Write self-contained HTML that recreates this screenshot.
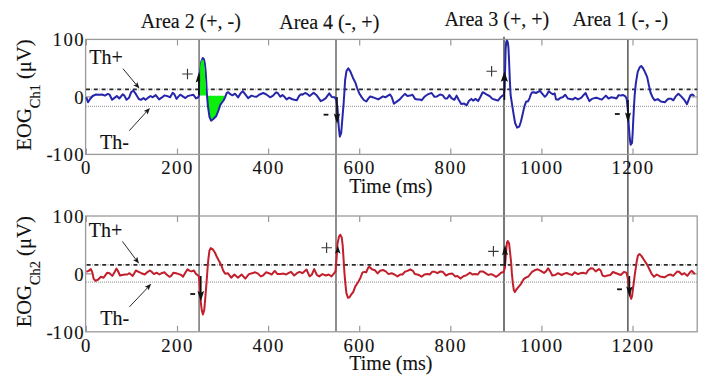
<!DOCTYPE html><html><head><meta charset="utf-8"><style>html,body{margin:0;padding:0;background:#fff;overflow:hidden}svg{display:block}text{stroke:#111;stroke-width:0.12px}</style></head><body>
<svg width="708" height="385" viewBox="0 0 708 385" font-family="Liberation Serif" font-size="20" fill="#111">
<line x1="199.1" y1="39.4" x2="199.1" y2="331.8" stroke="#858585" stroke-width="1.7"/>
<line x1="336.0" y1="39.4" x2="336.0" y2="331.8" stroke="#7a7a7a" stroke-width="1.7"/>
<line x1="504.0" y1="36.8" x2="504.0" y2="331.8" stroke="#555" stroke-width="1.6"/>
<line x1="627.9" y1="39.4" x2="627.9" y2="331.8" stroke="#3a3a3a" stroke-width="1.3"/>
<text x="140.8" y="27.9">Area 2 (+, -)</text>
<text x="279.2" y="28.7">Area 4 (-, +)</text>
<text x="444.4" y="26.3">Area 3 (+, +)</text>
<text x="572.6" y="26.3">Area 1 (-, -)</text>
<rect x="85.6" y="39.4" width="611.6" height="115.0" fill="none" stroke="#9a9a9a" stroke-width="1.3"/>
<path d="M86.4 154.4 v-6 M86.4 39.4 v6 M177.5 154.4 v-6 M177.5 39.4 v6 M268.6 154.4 v-6 M268.6 39.4 v6 M359.7 154.4 v-6 M359.7 39.4 v6 M450.8 154.4 v-6 M450.8 39.4 v6 M541.9 154.4 v-6 M541.9 39.4 v6 M633.0 154.4 v-6 M633.0 39.4 v6 M85.6 96.9 h6 M697.2 96.9 h-6" stroke="#9a9a9a" stroke-width="1.2" fill="none"/>
<line x1="86" y1="89.3" x2="697.2" y2="89.3" stroke="#2a2a2a" stroke-width="1.8" stroke-dasharray="4 1.7 0.3 1.8" stroke-dashoffset="0.0"/>
<line x1="86" y1="106.4" x2="697.2" y2="106.4" stroke="#a4a4a4" stroke-width="1.2" stroke-dasharray="1 1"/>
<text x="85.0" y="46.4" text-anchor="end" font-size="18.7" letter-spacing="1.45">100</text>
<text x="85.0" y="103.9" text-anchor="end" font-size="18.7" letter-spacing="1.45">0</text>
<text x="85.0" y="161.4" text-anchor="end" font-size="18.7" letter-spacing="1.45"><tspan letter-spacing="0">-</tspan>100</text>
<text x="86.4" y="174.2" text-anchor="middle" font-size="18.7" letter-spacing="1.45">0</text>
<text x="177.5" y="174.2" text-anchor="middle" font-size="18.7" letter-spacing="1.45">200</text>
<text x="268.6" y="174.2" text-anchor="middle" font-size="18.7" letter-spacing="1.45">400</text>
<text x="359.7" y="174.2" text-anchor="middle" font-size="18.7" letter-spacing="1.45">600</text>
<text x="450.8" y="174.2" text-anchor="middle" font-size="18.7" letter-spacing="1.45">800</text>
<text x="541.9" y="174.2" text-anchor="middle" font-size="18.7" letter-spacing="1.45">1000</text>
<text x="633.0" y="174.2" text-anchor="middle" font-size="18.7" letter-spacing="1.45">1200</text>
<text x="349.3" y="192.9">Time (ms)</text>
<text transform="translate(30.7 95.0) rotate(-90)" text-anchor="middle" font-size="20.6">EOG<tspan font-size="14.4" dy="9">Ch1</tspan><tspan dy="-9"> (μV)</tspan></text>
<rect x="85.6" y="216.0" width="611.6" height="115.8" fill="none" stroke="#9a9a9a" stroke-width="1.3"/>
<path d="M86.4 331.8 v-6 M86.4 216.0 v6 M177.5 331.8 v-6 M177.5 216.0 v6 M268.6 331.8 v-6 M268.6 216.0 v6 M359.7 331.8 v-6 M359.7 216.0 v6 M450.8 331.8 v-6 M450.8 216.0 v6 M541.9 331.8 v-6 M541.9 216.0 v6 M633.0 331.8 v-6 M633.0 216.0 v6 M85.6 273.9 h6 M697.2 273.9 h-6" stroke="#9a9a9a" stroke-width="1.2" fill="none"/>
<line x1="86" y1="264.8" x2="697.2" y2="264.8" stroke="#2a2a2a" stroke-width="1.8" stroke-dasharray="4 1.7 0.3 1.8" stroke-dashoffset="-0.6"/>
<line x1="86" y1="282.2" x2="697.2" y2="282.2" stroke="#a4a4a4" stroke-width="1.2" stroke-dasharray="1 1"/>
<text x="85.0" y="223.0" text-anchor="end" font-size="18.7" letter-spacing="1.45">100</text>
<text x="85.0" y="280.9" text-anchor="end" font-size="18.7" letter-spacing="1.45">0</text>
<text x="85.0" y="338.8" text-anchor="end" font-size="18.7" letter-spacing="1.45"><tspan letter-spacing="0">-</tspan>100</text>
<text x="86.4" y="351.6" text-anchor="middle" font-size="18.7" letter-spacing="1.45">0</text>
<text x="177.5" y="351.6" text-anchor="middle" font-size="18.7" letter-spacing="1.45">200</text>
<text x="268.6" y="351.6" text-anchor="middle" font-size="18.7" letter-spacing="1.45">400</text>
<text x="359.7" y="351.6" text-anchor="middle" font-size="18.7" letter-spacing="1.45">600</text>
<text x="450.8" y="351.6" text-anchor="middle" font-size="18.7" letter-spacing="1.45">800</text>
<text x="541.9" y="351.6" text-anchor="middle" font-size="18.7" letter-spacing="1.45">1000</text>
<text x="633.0" y="351.6" text-anchor="middle" font-size="18.7" letter-spacing="1.45">1200</text>
<text x="349.3" y="370.3">Time (ms)</text>
<text transform="translate(30.7 271.8) rotate(-90)" text-anchor="middle" font-size="20.6">EOG<tspan font-size="14.4" dy="9">Ch2</tspan><tspan dy="-9"> (μV)</tspan></text>
<path d="M206.9 95.8 L207.1 97.0 L208.0 106.7 L209.5 117.1 L211.1 120.7 L213.1 119.2 L216.3 116.0 L218.3 110.9 L220.4 104.6 L223.5 100.5 L225.0 95.8 Z" fill="#0af00a"/>
<path d="M86.3 97.3 L88.0 102.3 L90.1 99.0 L92.6 96.0 L96.0 94.5 L99.4 94.7 L102.0 94.5 L104.9 95.6 L107.9 93.9 L109.6 94.7 L112.1 99.8 L114.2 98.1 L116.8 96.0 L119.3 98.5 L122.7 94.3 L124.4 95.6 L126.5 99.8 L129.1 97.7 L131.2 92.2 L133.3 90.5 L135.8 93.9 L138.8 99.0 L140.9 99.8 L143.5 98.1 L145.5 99.8 L148.1 97.7 L150.6 96.0 L152.7 97.3 L155.7 95.1 L159.1 99.4 L161.6 97.7 L164.6 95.4 L167.6 96.2 L170.1 97.3 L172.7 92.8 L174.4 94.3 L176.5 98.9 L178.6 96.4 L180.3 94.7 L182.8 96.4 L185.4 98.1 L187.9 96.0 L190.5 95.4 L193.4 94.7 L196.0 98.4 L197.8 97.6 L199.2 95.5 L199.8 82.0 L200.4 70.0 L201.3 61.5 L202.7 58.0 L203.9 59.2 L204.9 64.0 L205.7 72.0 L206.3 82.0 L206.7 90.0 L207.1 97.0 L208.0 106.7 L209.5 117.1 L211.1 120.7 L213.1 119.2 L216.3 116.0 L218.3 110.9 L220.4 104.6 L223.5 100.5 L225.1 97.4 L226.6 93.2 L228.2 92.2 L230.3 94.2 L232.4 95.3 L235.0 93.7 L238.1 97.4 L240.7 93.2 L242.8 91.1 L245.5 94.7 L248.1 98.1 L251.5 95.6 L254.0 96.4 L256.6 96.8 L259.1 94.7 L263.3 93.0 L266.7 94.7 L270.1 97.3 L273.1 95.6 L276.0 92.3 L277.7 93.0 L280.3 96.8 L282.4 95.1 L284.5 96.8 L286.6 99.4 L289.2 97.7 L291.7 99.0 L294.3 99.8 L296.8 100.2 L299.4 95.6 L301.0 94.3 L302.5 94.7 L305.1 93.0 L307.2 93.9 L309.7 96.0 L313.6 92.8 L316.9 95.6 L320.8 101.1 L323.3 99.8 L325.8 98.1 L329.2 93.4 L331.8 97.0 L334.7 97.3 L336.2 100.0 L337.5 108.0 L338.8 127.5 L339.8 136.6 L341.2 133.0 L342.5 117.0 L343.6 104.0 L344.4 92.0 L345.1 80.0 L346.5 71.0 L348.3 68.3 L350.3 71.4 L352.9 77.7 L355.5 82.9 L357.1 88.0 L359.2 93.2 L361.8 97.4 L363.8 100.0 L366.4 101.5 L368.1 98.9 L370.2 96.4 L372.7 97.3 L375.3 98.1 L378.2 99.4 L380.3 98.1 L382.9 96.4 L385.4 97.3 L388.0 95.6 L390.1 94.5 L391.8 97.3 L393.9 103.6 L396.4 101.9 L399.8 99.4 L402.4 96.4 L404.9 93.9 L407.5 96.0 L410.0 95.6 L412.5 94.7 L415.1 98.9 L417.6 99.4 L419.7 99.4 L421.8 100.2 L424.4 96.8 L427.3 94.7 L429.0 93.9 L431.6 93.0 L434.5 96.8 L437.1 96.4 L440.0 94.5 L442.6 95.1 L445.1 98.5 L447.2 98.5 L449.4 95.1 L451.5 98.1 L454.4 99.8 L456.6 95.6 L458.7 99.8 L461.2 104.0 L464.2 103.6 L466.7 105.3 L468.8 101.1 L471.4 98.9 L473.1 100.6 L475.6 98.9 L478.1 101.1 L480.2 97.3 L482.7 92.2 L484.8 93.4 L486.9 94.7 L489.5 96.0 L492.5 98.9 L495.4 99.8 L498.0 100.6 L500.5 97.3 L502.6 95.6 L503.9 94.7 L504.6 88.0 L505.1 70.0 L505.6 50.0 L506.2 42.0 L506.9 40.6 L507.7 42.0 L508.4 47.0 L509.0 59.4 L509.8 79.6 L510.6 95.0 L511.9 103.3 L513.5 113.7 L515.1 123.0 L517.1 127.7 L519.2 126.7 L520.8 122.0 L522.3 115.8 L524.4 106.4 L526.0 101.8 L528.0 101.2 L529.6 98.1 L530.6 95.0 L531.8 92.6 L533.9 92.2 L536.0 93.0 L539.9 90.9 L542.4 93.9 L544.9 96.8 L546.6 95.1 L548.8 91.3 L550.9 93.0 L553.0 94.3 L554.7 93.4 L556.0 99.4 L558.5 99.4 L560.6 97.7 L562.7 97.3 L565.3 94.7 L567.8 98.5 L570.4 98.9 L572.9 99.4 L575.0 97.7 L578.0 99.4 L581.4 97.7 L583.9 94.7 L585.6 93.0 L586.9 96.0 L589.4 101.1 L591.9 98.9 L594.5 98.1 L596.6 97.7 L599.6 98.9 L602.1 99.4 L605.9 95.6 L608.5 98.5 L611.0 97.3 L614.0 97.7 L616.5 98.5 L618.6 95.1 L620.7 95.6 L623.3 95.1 L625.4 96.4 L626.7 99.0 L627.5 106.6 L628.1 113.0 L628.8 126.0 L629.8 139.0 L630.7 144.8 L632.0 142.9 L632.7 132.5 L633.3 119.5 L634.0 106.5 L634.6 96.0 L635.8 83.6 L637.7 71.9 L639.7 67.3 L641.2 66.0 L642.9 68.0 L644.9 71.9 L647.2 77.1 L648.8 84.9 L650.5 92.5 L652.5 97.2 L654.7 100.3 L657.8 99.1 L660.9 101.5 L664.8 102.2 L668.3 98.7 L671.0 98.7 L673.4 100.3 L675.7 96.4 L678.4 93.7 L681.2 96.4 L684.3 99.9 L687.0 104.2 L688.9 99.1 L690.5 95.2 L692.4 94.5 L694.4 96.0" fill="none" stroke="#2626aa" stroke-width="2" stroke-linejoin="round"/>
<path d="M86.4 271.8 L88.6 270.9 L90.9 269.1 L92.3 272.3 L93.6 278.6 L95.5 280.9 L98.2 279.5 L100.9 276.8 L103.6 277.7 L107.3 272.7 L109.5 273.2 L112.3 275.9 L114.5 272.3 L116.4 268.6 L117.7 270.5 L120.0 275.5 L122.3 275.0 L125.0 274.5 L127.3 274.5 L129.5 273.2 L132.7 275.9 L135.9 270.5 L138.6 271.8 L141.4 273.2 L144.8 274.5 L147.1 272.3 L149.8 270.5 L151.6 271.8 L153.9 274.1 L156.6 272.7 L159.4 274.5 L161.6 273.2 L164.4 272.3 L166.6 274.5 L169.4 276.8 L171.2 275.9 L173.5 272.7 L176.2 273.2 L178.9 274.1 L181.2 275.0 L183.0 276.8 L185.3 272.7 L187.5 269.4 L189.8 270.9 L191.6 271.4 L193.9 270.5 L195.7 273.6 L197.5 275.0 L198.9 276.4 L199.7 285.4 L200.9 303.2 L201.8 310.3 L202.9 314.5 L204.2 310.3 L205.3 298.0 L206.3 285.4 L207.1 275.0 L207.6 268.0 L208.4 258.7 L209.5 250.4 L210.7 248.1 L212.8 249.4 L214.9 252.5 L216.9 257.1 L219.5 261.8 L221.6 266.0 L223.2 270.6 L225.2 273.8 L227.8 273.2 L231.2 277.7 L234.4 274.5 L238.0 277.7 L241.6 274.5 L245.3 278.6 L248.9 274.1 L252.1 273.2 L255.3 272.3 L258.0 273.6 L260.7 276.4 L263.0 275.5 L266.2 272.3 L268.9 273.2 L271.6 274.5 L274.8 270.9 L277.5 274.1 L280.7 274.1 L283.5 273.6 L286.2 274.5 L288.3 273.2 L291.0 271.8 L294.2 275.5 L296.9 273.2 L299.6 271.8 L302.4 273.2 L306.5 269.5 L309.6 276.4 L311.9 274.5 L314.2 269.1 L316.9 275.0 L319.2 276.4 L322.4 274.1 L326.0 275.5 L328.7 274.5 L331.5 276.4 L334.2 273.2 L335.5 271.4 L336.5 259.2 L337.5 243.6 L339.1 236.3 L340.3 234.8 L341.7 237.4 L342.7 245.7 L343.5 258.0 L344.4 272.4 L345.4 283.8 L346.4 293.2 L348.0 297.8 L349.5 297.3 L351.1 294.7 L353.2 292.1 L355.3 286.4 L358.4 281.7 L360.5 277.6 L362.5 272.4 L364.6 271.9 L366.2 272.4 L368.2 267.7 L369.3 266.7 L371.9 269.3 L375.0 270.3 L377.6 273.4 L380.2 270.8 L383.0 270.0 L385.7 271.4 L388.5 274.1 L391.6 273.2 L394.4 274.5 L397.5 276.4 L400.3 274.5 L402.5 274.5 L404.8 271.8 L407.5 270.9 L410.3 269.5 L413.0 270.9 L414.8 274.1 L417.5 274.5 L419.8 275.5 L421.6 276.8 L424.4 274.5 L427.5 274.1 L429.8 274.5 L432.1 271.8 L434.8 271.8 L437.5 273.2 L440.3 271.4 L442.8 271.8 L446.0 275.5 L448.7 274.1 L452.4 273.6 L455.1 276.4 L457.4 275.9 L460.5 278.6 L463.7 275.9 L466.0 275.5 L470.1 272.7 L472.4 274.5 L475.1 274.1 L477.8 274.5 L480.1 271.4 L482.8 271.4 L485.5 273.2 L488.3 275.0 L491.0 274.1 L493.3 275.0 L496.0 276.8 L498.7 275.0 L501.0 272.7 L503.5 272.0 L504.9 268.0 L506.0 252.8 L507.0 242.4 L507.8 241.1 L509.1 243.4 L510.1 252.8 L511.2 263.2 L511.8 272.4 L512.8 282.8 L513.8 290.0 L514.9 292.1 L516.4 289.5 L518.5 286.9 L521.1 283.8 L523.7 279.1 L525.8 277.6 L528.4 276.5 L532.0 271.9 L534.6 270.3 L537.7 269.3 L540.8 270.8 L544.0 272.9 L546.0 271.4 L548.1 268.2 L550.2 271.4 L552.3 275.5 L555.3 275.0 L558.0 273.2 L561.6 275.0 L564.4 273.6 L566.6 273.0 L569.4 274.1 L572.1 275.0 L574.8 272.3 L578.0 274.1 L580.3 273.2 L583.0 272.7 L586.2 273.6 L588.0 270.5 L590.7 268.2 L593.0 268.6 L595.7 271.4 L598.9 269.1 L600.7 270.5 L602.5 275.5 L604.8 276.4 L607.5 275.5 L610.3 275.0 L613.0 272.0 L616.9 273.5 L620.8 275.0 L623.9 271.9 L626.5 272.7 L627.4 276.4 L628.4 282.0 L629.3 288.6 L630.2 296.0 L631.2 298.8 L632.1 296.0 L633.0 288.6 L634.0 281.1 L634.9 273.6 L635.8 268.0 L636.6 262.0 L637.9 255.6 L639.5 254.0 L641.8 256.4 L644.2 260.2 L647.3 264.9 L649.5 269.5 L651.8 274.1 L654.1 276.8 L656.8 274.5 L660.0 276.4 L664.5 277.3 L668.2 275.0 L670.5 274.5 L673.2 275.9 L677.3 271.4 L679.1 271.8 L681.8 274.5 L684.5 273.2 L687.3 275.9 L690.0 272.3 L691.8 270.9 L693.2 272.3 L695.0 274.1" fill="none" stroke="#c21f2c" stroke-width="2" stroke-linejoin="round"/>
<line x1="198.9" y1="95.0" x2="198.9" y2="80.7" stroke="#111" stroke-width="1.6"/><path d="M198.9 72.0 L195.7 82.5 L198.9 80.7 L202.1 82.5 Z" fill="#111"/>
<path d="M200.1 95.4 L200.1 70.0 L200.2 66.0 L200.9 62.5 L201.8 60.3 L202.8 59.6 L203.6 60.6 L204.2 64.5 L204.9 72.0 L205.5 82.0 L205.9 90.0 L206.1 95.4 Z" fill="#0af00a"/>
<line x1="337.0" y1="97.0" x2="337.0" y2="115.3" stroke="#111" stroke-width="1.6"/><path d="M337.0 124.0 L333.8 113.5 L337.0 115.3 L340.2 113.5 Z" fill="#111"/><line x1="504.4" y1="100.0" x2="504.4" y2="80.0" stroke="#111" stroke-width="1.6"/><path d="M504.4 71.3 L500.8 81.8 L504.4 80.0 L508.0 81.8 Z" fill="#111"/><line x1="628.0" y1="100.0" x2="628.0" y2="114.3" stroke="#111" stroke-width="1.6"/><path d="M628.0 123.0 L625.0 112.5 L628.0 114.3 L631.0 112.5 Z" fill="#111"/><line x1="200.8" y1="276.0" x2="200.8" y2="292.8" stroke="#111" stroke-width="1.6"/><path d="M200.8 301.5 L197.5 291.0 L200.8 292.8 L204.1 291.0 Z" fill="#111"/><path d="M337.8 245.8 L335.0 253.8 L337.8 252.0 L340.6 253.8 Z" fill="#111"/><line x1="505.0" y1="266.0" x2="505.0" y2="253.5" stroke="#111" stroke-width="1.6"/><path d="M505.0 244.8 L502.0 255.3 L505.0 253.5 L508.0 255.3 Z" fill="#111"/><line x1="629.4" y1="276.0" x2="629.4" y2="288.3" stroke="#111" stroke-width="1.6"/><path d="M629.4 297.0 L626.2 286.5 L629.4 288.3 L632.6 286.5 Z" fill="#111"/>
<text x="89.3" y="63.5">Th+</text>
<text x="100.1" y="148.7">Th-</text>
<text x="88.7" y="236.6">Th+</text>
<text x="100.3" y="324.6">Th-</text>
<line x1="122.9" y1="68.6" x2="136.1" y2="84.5" stroke="#2a2a2a" stroke-width="1"/><path d="M139.5 88.6 L133.3 85.3 L136.1 84.5 L137.3 81.9 Z" fill="#1a1a1a"/>
<line x1="129.3" y1="130.7" x2="146.4" y2="111.8" stroke="#2a2a2a" stroke-width="1"/><path d="M150.0 107.9 L147.6 114.5 L146.4 111.8 L143.7 111.0 Z" fill="#1a1a1a"/>
<line x1="122.4" y1="241.4" x2="135.8" y2="259.4" stroke="#2a2a2a" stroke-width="1"/><path d="M139.0 263.6 L133.0 260.0 L135.8 259.4 L137.2 256.8 Z" fill="#1a1a1a"/>
<line x1="129.4" y1="306.9" x2="147.6" y2="287.7" stroke="#2a2a2a" stroke-width="1"/><path d="M151.2 283.8 L148.6 290.3 L147.6 287.7 L144.8 286.7 Z" fill="#1a1a1a"/>
<path d="M182.2 74.0 h10.5 M187.5 68.8 v10.5" stroke="#3a3a3a" stroke-width="1.15"/>
<rect x="323.6" y="113.8" width="4.8" height="1.8" fill="#111"/>
<path d="M486.4 71.2 h10.5 M491.6 66.0 v10.5" stroke="#3a3a3a" stroke-width="1.15"/>
<rect x="614.9" y="113.1" width="4.8" height="1.8" fill="#111"/>
<rect x="190.3" y="293.1" width="4.8" height="1.8" fill="#111"/>
<path d="M321.4 247.7 h10.5 M326.6 242.4 v10.5" stroke="#3a3a3a" stroke-width="1.15"/>
<path d="M488.1 251.3 h10.5 M493.4 246.1 v10.5" stroke="#3a3a3a" stroke-width="1.15"/>
<rect x="617.1" y="288.4" width="4.8" height="1.8" fill="#111"/>
</svg></body></html>
